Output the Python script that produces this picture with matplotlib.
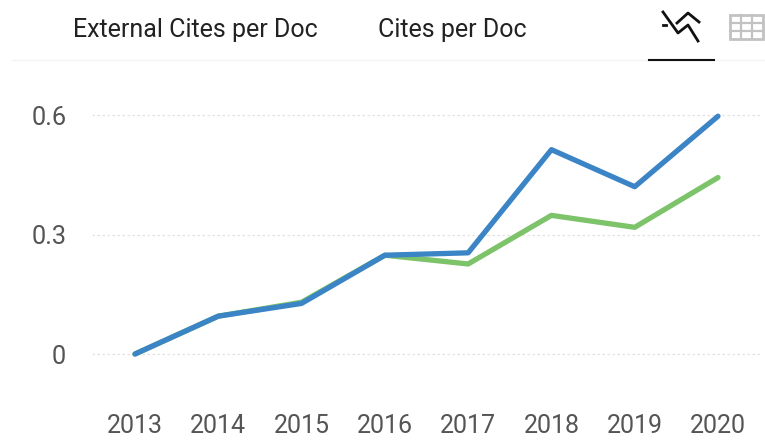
import matplotlib
matplotlib.use('Agg')
import matplotlib.pyplot as plt
from matplotlib.lines import Line2D
from matplotlib.patches import Rectangle

years = ['2013', '2014', '2015', '2016', '2017', '2018', '2019', '2020']
external_cites = [0.0, 0.095, 0.13, 0.248, 0.226, 0.348, 0.318, 0.443]
cites = [0.0, 0.095, 0.127, 0.248, 0.254, 0.513, 0.42, 0.597]
y_ticks = [0, 0.3, 0.6]
y_labels = ['0', '0.3', '0.6']
legend_labels = ['External Cites per Doc', 'Cites per Doc']

W, H = 765, 442
plt.rcParams['font.family'] = ['Roboto', 'DejaVu Sans']
fig = plt.figure(figsize=(W / 100, H / 100), dpi=100)
fig.patch.set_facecolor('white')

left, right = 92, 760
top, bottom = 115, 354
ax = fig.add_axes([left / W, 1 - bottom / H, (right - left) / W, (bottom - top) / H])
x = list(range(len(years)))
ax.plot(x, external_cites, color='#7cc36a', lw=3.8, solid_capstyle='round', zorder=3)
ax.plot(x, cites, color='#3b84c6', lw=3.8, solid_capstyle='round', zorder=4)
x0, x1 = 135, 718
px = (x1 - x0) / 7
ax.set_xlim((left - x0) / px, (right - x0) / px)
ax.set_ylim(0, 0.6)
for s in ax.spines.values():
    s.set_visible(False)
ax.set_xticks(x, years)
ax.set_yticks(y_ticks, y_labels)
ax.tick_params(axis='x', length=0, pad=43, labelsize=18, colors='#555555')
ax.tick_params(axis='y', length=0, pad=18.5, labelsize=18.3, colors='#555555')
ax.grid(axis='y', color='#e2e2e2', lw=0.9, ls=(0, (2, 2)))
ax.set_axisbelow(True)
ax.patch.set_alpha(0)
for line in ax.get_lines():
    line.set_clip_on(False)
for gl in ax.get_ygridlines():
    gl.set_clip_on(False)

def X(v):
    return v / W
def Y(v):
    return 1 - v / H

fig.text(X(73), Y(29.5), legend_labels[0], fontsize=18, color='#222222', va='center')
fig.text(X(378), Y(29.5), legend_labels[1], fontsize=18, color='#222222', va='center')
fig.add_artist(Line2D([X(12), X(765)], [Y(60), Y(60)], color='#f4f4f4', lw=1))
fig.add_artist(Line2D([X(649), X(714)], [Y(60), Y(60)], color='#111111', lw=1.5))
ic = '#111111'
fig.add_artist(Line2D([X(v) for v in (663, 678, 688, 698)],
                      [Y(v) for v in (12, 33, 25, 41)], color=ic, lw=2))
fig.add_artist(Line2D([X(v) for v in (677, 688, 699)],
                      [Y(v) for v in (23, 13, 22)], color=ic, lw=2))
fig.add_artist(Line2D([X(663), X(666)], [Y(25), Y(25)], color=ic, lw=2))
gx0, gx1, gy0, gy1 = 730, 763, 15, 39
gc = '#c2c2c2'
fig.add_artist(Rectangle((X(gx0), Y(gy1)), (gx1 - gx0) / W, (gy1 - gy0) / H,
                         fill=False, ec=gc, lw=2))
for f in (1 / 3, 2 / 3):
    xv = gx0 + f * (gx1 - gx0)
    fig.add_artist(Line2D([X(xv), X(xv)], [Y(gy0), Y(gy1)], color=gc, lw=1.6))
for f in (1 / 3, 2 / 3):
    yv = gy0 + f * (gy1 - gy0)
    fig.add_artist(Line2D([X(gx0), X(gx1)], [Y(yv), Y(yv)], color=gc, lw=1.6))

fig.savefig('out.png', dpi=100)
